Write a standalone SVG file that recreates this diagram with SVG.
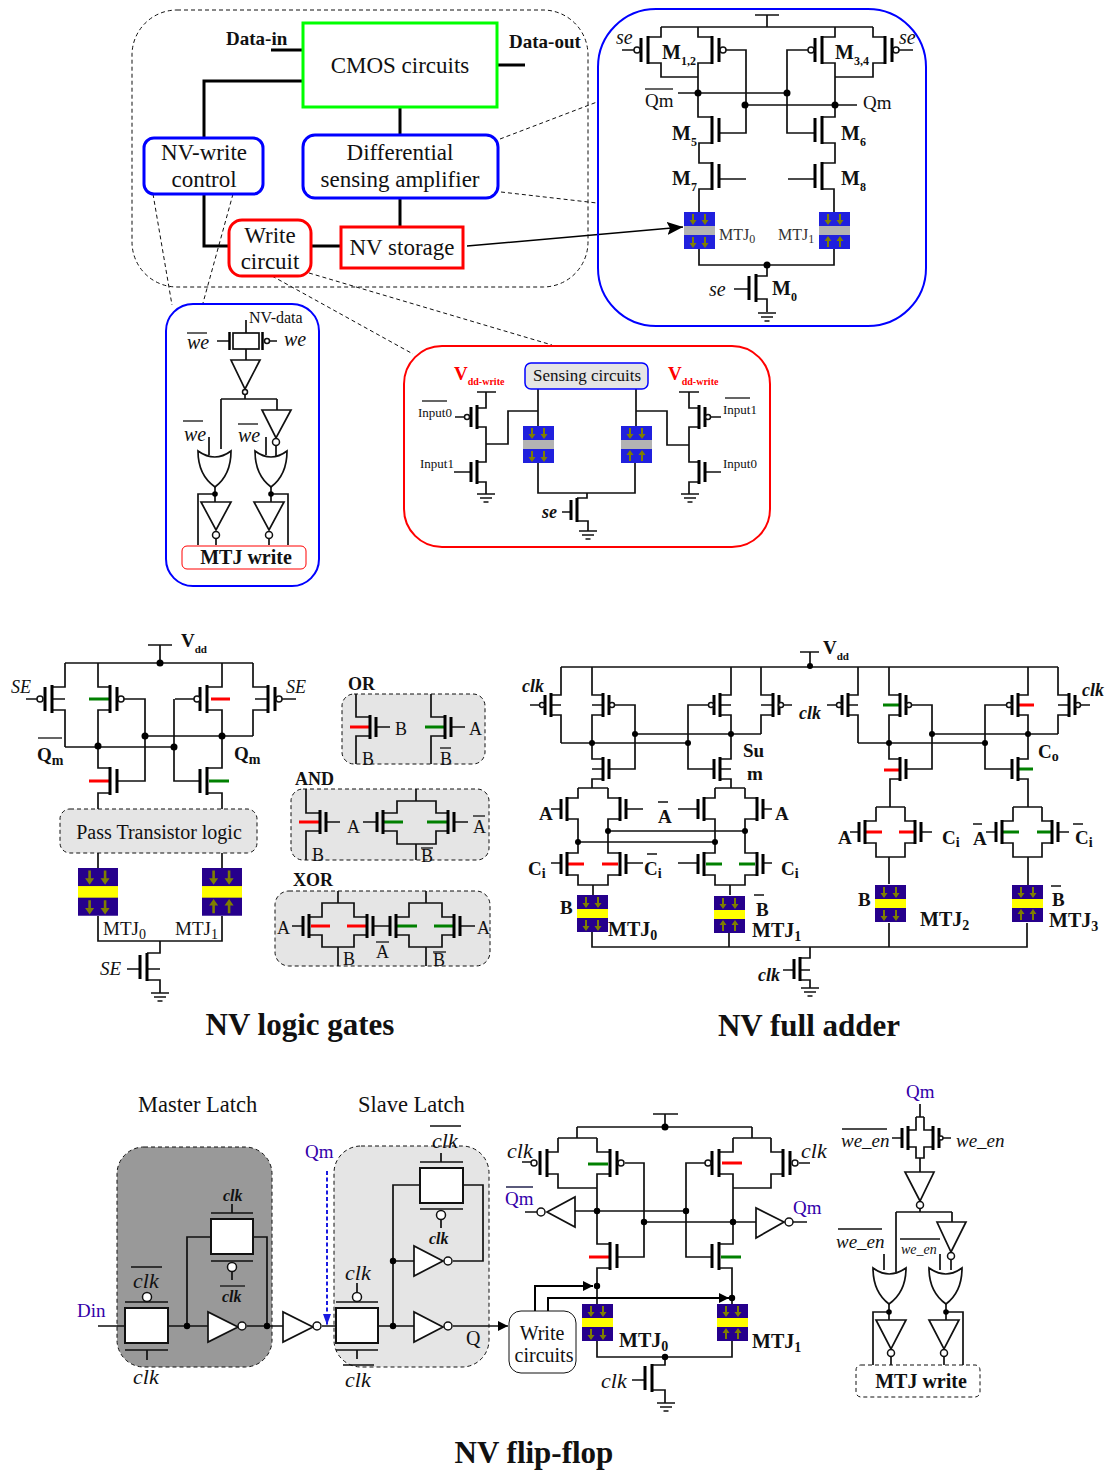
<svg xmlns="http://www.w3.org/2000/svg" width="1110" height="1470" viewBox="0 0 1110 1470">
<style>
text{font-family:"Liberation Serif","Times New Roman",serif;fill:#111}
.i{font-style:italic}.b{font-weight:bold}.c{text-anchor:middle}
.w{fill:none;stroke:#111;stroke-width:1.7}
.t{fill:none;stroke:#000;stroke-width:3}
.o{fill:none;stroke:#111;stroke-width:1.3}
.bar{fill:none;stroke:#000;stroke-width:3}
.bb{fill:#fff;stroke:#111;stroke-width:1.5}
.inv{fill:#fff;stroke:#111;stroke-width:1.7}
.d{fill:#000}
.r{stroke:#f00;stroke-width:3;fill:none}
.g{stroke:#008000;stroke-width:3;fill:none}
.dash{fill:none;stroke:#111;stroke-width:1;stroke-dasharray:4 3}
.dbox{stroke:#111;stroke-width:1;stroke-dasharray:4 3}
.pg{fill:#fff;stroke:#111;stroke-width:2}
.blu{fill:#2020dd}.gra{fill:#b3b3b3}.pur{fill:#26008c}.yel{fill:#ff0}
.ol{fill:#7f7f00}
.q{fill:#3300aa}
.rt{fill:#f00}
</style>
<defs>
<g id="tl"><path class="bar" d="M0-14V14M-7-12V12"/></g>
<g id="tr"><path class="bar" d="M0-14V14M7-12V12"/></g>
<g id="sl"><path class="bar" d="M0-12V12M-6-10V10"/></g>
<g id="sr"><path class="bar" d="M0-12V12M6-10V10"/></g>
<g id="gnd"><path class="w" d="M-9,0H9M-6,4H6M-2.500,8H2.500"/></g>
<path id="ad" class="ol" d="M-1-5H1V1H3.500L0,6-3.500,1H-1Z"/>
<path id="au" class="ol" d="M-1,5H1V-1H3.500L0-6-3.500-1H-1Z"/>
<g id="bdd"><rect class="blu" width="31" height="37"/><rect class="gra" y="14" width="31" height="9"/><use href="#ad" x="9" y="7"/><use href="#ad" x="21" y="7"/><use href="#ad" x="9" y="30"/><use href="#ad" x="21" y="30"/></g>
<g id="bdu"><rect class="blu" width="31" height="37"/><rect class="gra" y="14" width="31" height="9"/><use href="#ad" x="9" y="7"/><use href="#ad" x="21" y="7"/><use href="#au" x="9" y="30"/><use href="#au" x="21" y="30"/></g>
<g id="pdd"><rect class="pur" width="31" height="37"/><rect class="yel" y="14" width="31" height="9"/><use href="#ad" x="9" y="7"/><use href="#ad" x="21" y="7"/><use href="#ad" x="9" y="30"/><use href="#ad" x="21" y="30"/></g>
<g id="pdu"><rect class="pur" width="31" height="37"/><rect class="yel" y="14" width="31" height="9"/><use href="#ad" x="9" y="7"/><use href="#ad" x="21" y="7"/><use href="#au" x="9" y="30"/><use href="#au" x="21" y="30"/></g>
<marker id="ah" markerUnits="userSpaceOnUse" markerWidth="17" markerHeight="13" refX="16" refY="6.500" orient="auto"><path d="M0,0L16,6.500 0,13 3,6.500Z" fill="#000"/></marker>
<marker id="as" markerUnits="userSpaceOnUse" markerWidth="11" markerHeight="10" refX="10" refY="5" orient="auto"><path d="M0,0L10,5 0,10Z" fill="#000"/></marker>
<marker id="ab" markerUnits="userSpaceOnUse" markerWidth="12" markerHeight="9" refX="11" refY="4" orient="auto"><path d="M0,0L11,4 0,8Z" fill="#1a1ae0"/></marker>
</defs>

<g id="nv-system">
<rect id="system-outline" class="dash" x="132" y="10" width="456" height="277" rx="45"/>
<g id="top-connectors">
<path class="t" d="M271,50H303M497,65H525M303,81H204V138M400,107V134M400,198V227M204,194V246H229M311,246H341"/>
<path class="dash" d="M500,139L597,102M501,192L597,203M153,194L172,305M233,194L203,303M272,276L413,354M309,273L552,345"/>
<path d="M467,246L683,227" fill="none" stroke="#000" stroke-width="1.500" marker-end="url(#ah)"/>
</g>
<text class="b" x="226" y="45" font-size="19">Data-in</text>
<text class="b" x="509" y="48" font-size="19">Data-out</text>
<g id="cmos"><rect x="303" y="23" width="194" height="84" fill="#fff" stroke="#0f0" stroke-width="3"/><text class="c" x="400" y="73" font-size="23">CMOS circuits</text></g>
<g id="nv-write-control"><rect x="144" y="138" width="119" height="56" rx="10" fill="#fff" stroke="#00f" stroke-width="3"/><text class="c" x="204" y="160" font-size="23">NV-write</text><text class="c" x="204" y="187" font-size="23">control</text></g>
<g id="diff-amp"><rect x="303" y="135" width="195" height="63" rx="12" fill="#fff" stroke="#00f" stroke-width="3"/><text class="c" x="400" y="160" font-size="23">Differential</text><text class="c" x="400" y="187" font-size="23">sensing amplifier</text></g>
<g id="write-circuit"><rect x="229" y="220" width="82" height="56" rx="13" fill="#fff" stroke="#f00" stroke-width="3"/><text class="c" x="270" y="243" font-size="23">Write</text><text class="c" x="270" y="269" font-size="23">circuit</text></g>
<g id="nv-storage"><rect x="341" y="227" width="122" height="41" fill="#fff" stroke="#f00" stroke-width="3"/><text class="c" x="402" y="255" font-size="23">NV storage</text></g>
</g>

<g id="sense-amp-detail">
<rect x="598" y="9" width="328" height="317" rx="58" fill="none" stroke="#00f" stroke-width="2"/>
<g id="sa-wires"><path class="w" d="M755,15H779M767,15V27M661,27H873M661,27V37H648M648,63H661V77H698M698,27V37H712M712,63H698V117H712M712,143H699V163H712M712,189H699V212M699,249V265H834V249M834,212V189H822M822,163H835V143H822M822,117H835V63H822M822,37H835V27M873,27V37H885M885,63H873V77H835M622,50H634M726,50H746V133H719M808,50H787V133H815M899,50H913M678,93H787M745,105H857M719,179H746M788,179H815M767,265V276H756M756,299H767V312M734,289H749"/>
<use href="#gnd" x="767" y="313"/></g>
<g id="sa-devices"><use href="#tl" x="648" y="50"/><use href="#tr" x="712" y="50"/><use href="#tl" x="822" y="50"/><use href="#tr" x="885" y="50"/><use href="#tr" x="712" y="130"/><use href="#tl" x="822" y="130"/><use href="#tr" x="712" y="176"/><use href="#tl" x="822" y="176"/><use href="#tl" x="756" y="288"/>
<circle class="bb" cx="637" cy="50" r="3"/><circle class="bb" cx="723" cy="50" r="3"/><circle class="bb" cx="811" cy="50" r="3"/><circle class="bb" cx="896" cy="50" r="3"/>
<circle class="d" cx="698" cy="93" r="3.500"/><circle class="d" cx="787" cy="93" r="3.500"/><circle class="d" cx="745" cy="105" r="3.500"/><circle class="d" cx="835" cy="105" r="3.500"/><circle class="d" cx="767" cy="265" r="3.500"/>
<use href="#bdd" x="684" y="212"/><use href="#bdu" x="819" y="212"/></g>
<text class="i" x="616" y="44" font-size="20">se</text><text class="i" x="899" y="44" font-size="20">se</text>
<text class="b" x="662" y="59" font-size="20">M<tspan dy="6" font-size="12">1,2</tspan></text>
<text class="b" x="835" y="59" font-size="20">M<tspan dy="6" font-size="12">3,4</tspan></text>
<text x="645" y="107" font-size="19">Qm</text><path class="o" d="M645,89H673"/><text x="863" y="109" font-size="19">Qm</text>
<text class="b" x="672" y="140" font-size="20">M<tspan dy="6" font-size="12">5</tspan></text>
<text class="b" x="841" y="140" font-size="20">M<tspan dy="6" font-size="12">6</tspan></text>
<text class="b" x="672" y="185" font-size="20">M<tspan dy="6" font-size="12">7</tspan></text>
<text class="b" x="841" y="185" font-size="20">M<tspan dy="6" font-size="12">8</tspan></text>
<text x="719" y="240" font-size="16" style="fill:#333">MTJ<tspan dy="3" font-size="12">0</tspan></text>
<text x="778" y="240" font-size="16" style="fill:#333">MTJ<tspan dy="3" font-size="12">1</tspan></text>
<text class="i" x="709" y="296" font-size="20">se</text>
<text class="b" x="772" y="295" font-size="20">M<tspan dy="6" font-size="12">0</tspan></text>
</g>

<g id="write-control-detail">
<rect x="166" y="304" width="153" height="282" rx="27" fill="none" stroke="#00f" stroke-width="2"/>
<path class="w" d="M246,320V333M246,349V360M217,341H229M270,341H277M245,395V399M221,399H277M221,399V449M277,399V410M276,445V457M209,437V455M266,437V455M198,545V494H215M215,487V502M271,487V502M271,494H288V545M216,538V545M269,538V545"/>
<rect class="w" x="233" y="333" width="26" height="16"/>
<path fill="none" stroke="#000" stroke-width="2.500" d="M229.500,332V350M262.500,332V350"/>
<circle class="bb" cx="267" cy="341" r="2.500"/>
<path class="inv" d="M231,360H260L245,389Z"/><circle class="bb" cx="245" cy="392" r="2.500"/>
<path class="inv" d="M262,410H291L276,438Z"/><circle class="bb" cx="276" cy="442" r="3.500"/>
<path class="inv" d="M198,451Q215,463 231,451Q231,475 215,487Q198,475 198,451Z"/>
<path class="inv" d="M255,451Q271,463 287,451Q287,475 271,487Q255,475 255,451Z"/>
<circle class="d" cx="215" cy="494" r="2.800"/><circle class="d" cx="271" cy="494" r="2.800"/>
<path class="inv" d="M201,502H231L216,530Z"/><circle class="bb" cx="216" cy="535" r="3.500"/>
<path class="inv" d="M254,502H284L269,530Z"/><circle class="bb" cx="269" cy="535" r="3.500"/>
<g id="mtj-write-top"><rect x="182" y="546" width="124" height="23" rx="5" fill="#fff" stroke="#f00" stroke-width="1"/><text class="b c" x="246" y="564" font-size="20">MTJ write</text></g>
<text x="249" y="323" font-size="16">NV-data</text>
<text class="i" x="187" y="349" font-size="20">we</text><path class="o" d="M187,333H207"/>
<text class="i" x="284" y="346" font-size="20">we</text>
<text class="i" x="184" y="441" font-size="20">we</text><path class="o" d="M183,421H203"/>
<text class="i" x="238" y="442" font-size="20">we</text><path class="o" d="M238,424H258"/>
</g>

<g id="write-circuit-detail">
<rect x="404" y="346" width="366" height="201" rx="38" fill="none" stroke="#f00" stroke-width="2"/>
<path class="w" d="M477,392H496M486,392V408H477M477,427H486V462H477M477,482H486V494M486,444H508V411H538M538,389V426M538,463V493H635V463M636,389V426M636,411H667V445H689M679,392H699M689,392V408H699M699,427H689V462H699M699,482H689V494M455,417H464M454,472H470M709,417H721M706,472H721M587,493V498H577M577,521H588V531M562,512H571"/>
<use href="#gnd" x="486" y="494"/><use href="#gnd" x="690" y="494"/><use href="#gnd" x="588" y="531"/>
<use href="#sl" x="477" y="417"/><use href="#sl" x="477" y="472"/><use href="#sr" x="699" y="417"/><use href="#sr" x="699" y="472"/><use href="#sl" x="577" y="510"/>
<circle class="bb" cx="467" cy="417" r="2.500"/><circle class="bb" cx="708" cy="417" r="2.500"/>
<use href="#bdd" x="523" y="426"/><use href="#bdu" x="621" y="426"/>
<g id="sensing-circuits"><rect x="525" y="363" width="123" height="26" rx="6" fill="#e5e5e5" stroke="#00f" stroke-width="1.500"/><text class="c" x="587" y="381" font-size="17">Sensing circuits</text></g>
<text class="b rt" x="454" y="380" font-size="19" style="fill:#f00">V<tspan dy="5" font-size="10">dd-write</tspan></text>
<text class="b rt" x="668" y="380" font-size="19" style="fill:#f00">V<tspan dy="5" font-size="10">dd-write</tspan></text>
<text x="418" y="417" font-size="13">Input0</text><path class="o" d="M422,401H447"/>
<text x="420" y="468" font-size="13">Input1</text>
<text x="723" y="414" font-size="13">Input1</text><path class="o" d="M725,398H750"/>
<text x="723" y="468" font-size="13">Input0</text>
<text class="b i" x="542" y="518" font-size="18">se</text>
</g>

<g id="nv-logic-gates">
<g id="lg-wires"><path class="w" d="M148,645H172M160,645V663M65,663H253M65,663V687H52M52,699H65M52,710H65V747M26,699H37M98,663V687H110M110,710H98V768H110M110,793H98V809M65,747H174M124,699H145V781H118M145,736H253M175,699H194M174,699V781H201M222,663V687H207M207,710H222V768H207M207,793H222V809M253,663V687H268M268,710H253V736M255,699H268M282,699H296M98,853V868M222,853V868M98,916V941H222V916M160,941V953H147M147,980H160V993M127,969H140M147,969H160"/>
<path class="r" d="M89,781H109M211,699H230"/><path class="g" d="M89,699H109M209,781H229"/><use href="#gnd" x="160" y="993"/>
<use href="#tl" x="52" y="699"/><use href="#tr" x="110" y="699"/><use href="#tr" x="110" y="781"/><use href="#tl" x="207" y="699"/><use href="#tl" x="207" y="781"/><use href="#tr" x="268" y="699"/><use href="#tl" x="147" y="967"/>
<circle class="bb" cx="40" cy="699" r="3"/><circle class="bb" cx="121" cy="699" r="3"/><circle class="bb" cx="197" cy="699" r="3"/><circle class="bb" cx="279" cy="699" r="3"/>
<circle class="d" cx="160" cy="663" r="3.500"/><circle class="d" cx="98" cy="746" r="3.500"/><circle class="d" cx="174" cy="747" r="3.500"/><circle class="d" cx="145" cy="736" r="3.500"/><circle class="d" cx="222" cy="736" r="3.500"/></g>
<g id="pass-transistor"><rect class="dbox" x="60" y="809" width="197" height="44" rx="10" fill="#e5e5e5"/><text class="c" x="159" y="839" font-size="20">Pass Transistor logic</text></g>
<g transform="translate(78,868) scale(1.290)"><use href="#pdd"/></g><g transform="translate(202,868) scale(1.290)"><use href="#pdu"/></g>
<text class="i" x="11" y="693" font-size="18">SE</text><text class="i" x="286" y="693" font-size="18">SE</text>
<text class="b" x="181" y="647" font-size="19">V<tspan dy="6" font-size="11">dd</tspan></text>
<text class="b" x="37" y="761" font-size="19">Q<tspan dy="4" font-size="14">m</tspan></text><path class="o" d="M38,738H62"/>
<text class="b" x="234" y="760" font-size="19">Q<tspan dy="4" font-size="14">m</tspan></text>
<text x="103" y="935" font-size="19">MTJ<tspan dy="4" font-size="14">0</tspan></text><text x="175" y="935" font-size="19">MTJ<tspan dy="4" font-size="14">1</tspan></text>
<text class="i" x="100" y="975" font-size="19">SE</text>

<g id="or-gate"><rect class="dbox" x="342" y="694" width="143" height="70" rx="12" fill="#e5e5e5"/>
<path class="w" d="M356,694V717H370M370,736H356V764M376,727H390M431,694V717H445M445,736H431V764M451,727H465"/>
<path class="r" d="M350,727H370"/><path class="g" d="M425,727H445"/><use href="#sr" x="370" y="727"/><use href="#sr" x="445" y="727"/>
<text class="b" x="348" y="690" font-size="18">OR</text>
<text x="395" y="735" font-size="18">B</text><text x="362" y="765" font-size="18">B</text><text x="469" y="735" font-size="18">A</text><text x="440" y="765" font-size="18">B</text><path class="o" d="M440,748H451"/></g>
<g id="and-gate"><rect class="dbox" x="291" y="789" width="198" height="71" rx="12" fill="#e5e5e5"/>
<path class="w" d="M306,789V813H320M320,831H306V860M326,822H340M363,822H376M383,813H397V801H436V813H448M383,831H397V844H436V831H448M416,789V801M416,844V860M455,822H468"/>
<path class="r" d="M299,822H319"/><path class="g" d="M384,822H403M427,822H447"/><use href="#sr" x="320" y="822"/><use href="#sl" x="383" y="822"/><use href="#sr" x="448" y="822"/>
<text class="b" x="295" y="785" font-size="18">AND</text>
<text x="347" y="833" font-size="18">A</text><text x="312" y="861" font-size="18">B</text><text x="473" y="833" font-size="18">A</text><path class="o" d="M473,816H485"/><text x="421" y="862" font-size="18">B</text><path class="o" d="M421,848H433"/></g>
<g id="xor-gate"><rect class="dbox" x="275" y="891" width="215" height="75" rx="14" fill="#e5e5e5"/>
<path class="w" d="M292,926H302M309,917H322V903H354V917H367M309,935H322V947H354V935H367M338,891V903M338,947V966M374,926H390M396,917H409V903H442V917H454M396,935H409V947H442V935H454M426,891V903M426,947V966M461,926H475"/>
<path class="r" d="M311,926H330M347,926H367"/><path class="g" d="M397,926H417M434,926H454"/><use href="#sl" x="309" y="926"/><use href="#sr" x="367" y="926"/><use href="#sl" x="396" y="926"/><use href="#sr" x="454" y="926"/>
<text class="b" x="293" y="886" font-size="18">XOR</text>
<text x="277" y="934" font-size="18">A</text><text x="477" y="934" font-size="18">A</text><text x="343" y="965" font-size="18">B</text><text x="376" y="958" font-size="18">A</text><path class="o" d="M376,942H389"/><text x="433" y="966" font-size="18">B</text><path class="o" d="M433,952H446"/></g>
<text class="b c" x="300" y="1035" font-size="31">NV logic gates</text>
</g>

<g id="nv-full-adder">
<g id="fa-wires"><path class="w" d="M561,667H1058M800,652H819M810,652V667M561,667V695H551M551,715H561V743M551,705H561M592,667V695H603M603,715H592V759H603M603,779H592V788M592,705H603M592,769H603M615,705H635V769H609M561,743H688M635,734H761M731,667V695H720M720,715H731V759H720M720,779H731V788M720,705H731M720,769H731M708,705H688V769H714M761,667V695H773M773,715H761V734M761,705H773M784,705H792M530,705H540
M578,788H608M578,788V798H567M567,819H578V853H567M567,875H578V885H608V875H620M608,788V798H620M620,819H608V853H620M551,809H561M626,809H643M551,863H561M626,863H643M593,885V895
M715,788H745M715,788V798H704M704,819H715V853H704M704,875H715V885H745V875H757M745,788V798H757M757,819H745V853H757M678,809H698M763,809H772M678,863H698M763,863H772M730,885V895M608,831H745M578,842H715
M592,932V947H1027V923M729,933V947M889,923V947M810,947V958H800M800,980H810V988M783,970H794M800,970H810
M858,667V695H848M848,715H858V743M827,705H837M848,705H858M889,667V695H900M900,715H889V759H900M900,779H890V807M912,705H932V769H906M1028,667V695H1018M1018,715H1028V759H1018M1018,779H1028V807M1006,705H985V769H1012M1058,667V695H1069M1069,715H1058V734M1081,705H1090M1058,705H1069M858,743H985M932,734H1058
M876,807H905M876,807V821H865M865,843H876V857H905V843H915M905,807V821H915M850,832H859M921,832H932M889,857V884M1013,807H1042M1013,807V821H1002M1002,843H1013V857H1042V843H1052M1042,807V821H1052M986,832H996M1058,832H1069M1028,857V885"/>
<use href="#gnd" x="810" y="988"/>
<path class="r" d="M568,864H584M602,864H618M884,770H900M1019,705H1034M866,832H882M899,832H915"/>
<path class="g" d="M706,864H722M739,864H755M883,705H900M1018,769H1033M1003,832H1019M1037,832H1052"/></g>
<g id="fa-devices">
<use href="#sl" x="551" y="705"/><use href="#sr" x="603" y="705"/><use href="#sl" x="720" y="705"/><use href="#sr" x="773" y="705"/><use href="#sl" x="848" y="705"/><use href="#sr" x="900" y="705"/><use href="#sl" x="1018" y="705"/><use href="#sr" x="1069" y="705"/>
<use href="#sr" x="603" y="769"/><use href="#sl" x="720" y="769"/><use href="#sr" x="900" y="769"/><use href="#sl" x="1018" y="769"/>
<use href="#sl" x="567" y="809"/><use href="#sr" x="620" y="809"/><use href="#sl" x="704" y="809"/><use href="#sr" x="757" y="809"/><use href="#sl" x="567" y="864"/><use href="#sr" x="620" y="864"/><use href="#sl" x="704" y="864"/><use href="#sr" x="757" y="864"/>
<use href="#sl" x="865" y="832"/><use href="#sr" x="915" y="832"/><use href="#sl" x="1002" y="832"/><use href="#sr" x="1052" y="832"/><use href="#sl" x="800" y="969"/>
<circle class="bb" cx="542" cy="705" r="2.500"/><circle class="bb" cx="612" cy="705" r="2.500"/><circle class="bb" cx="711" cy="705" r="2.500"/><circle class="bb" cx="781" cy="705" r="2.500"/><circle class="bb" cx="839" cy="705" r="2.500"/><circle class="bb" cx="909" cy="705" r="2.500"/><circle class="bb" cx="1009" cy="705" r="2.500"/><circle class="bb" cx="1078" cy="705" r="2.500"/>
<circle class="d" cx="810" cy="666" r="3"/><circle class="d" cx="592" cy="743" r="3"/><circle class="d" cx="688" cy="743" r="3"/><circle class="d" cx="635" cy="734" r="3"/><circle class="d" cx="731" cy="734" r="3"/><circle class="d" cx="889" cy="743" r="3"/><circle class="d" cx="985" cy="743" r="3"/><circle class="d" cx="932" cy="734" r="3"/><circle class="d" cx="1028" cy="734" r="3"/><circle class="d" cx="578" cy="842" r="3"/><circle class="d" cx="608" cy="831" r="3"/><circle class="d" cx="745" cy="831" r="3"/><circle class="d" cx="715" cy="842" r="3"/>
<use href="#pdd" x="577" y="895"/><use href="#pdu" x="714" y="896"/><use href="#pdd" x="875" y="885"/><use href="#pdu" x="1012" y="885"/></g>
<g class="b" font-size="19"><text class="i" x="522" y="692" font-size="18">clk</text><text class="i" x="799" y="719" font-size="18">clk</text><text class="i" x="1082" y="696" font-size="18">clk</text>
<text x="823" y="654">V<tspan dy="6" font-size="11">dd</tspan></text>
<text x="743" y="757">Su</text><text x="747" y="780">m</text>
<text x="539" y="820">A</text><text x="658" y="823">A</text><text x="775" y="820">A</text>
<text x="528" y="875">C<tspan dy="3" font-size="14">i</tspan></text><text x="644" y="875">C<tspan dy="3" font-size="14">i</tspan></text><text x="781" y="875">C<tspan dy="3" font-size="14">i</tspan></text>
<text x="560" y="914">B</text><text x="756" y="916">B</text>
<text x="608" y="936" font-size="20">MTJ<tspan dy="4" font-size="14">0</tspan></text><text x="752" y="937" font-size="20">MTJ<tspan dy="4" font-size="14">1</tspan></text>
<text class="i" x="758" y="981" font-size="18">clk</text>
<text x="1038" y="758">C<tspan dy="3" font-size="14">o</tspan></text>
<text x="838" y="844">A</text><text x="942" y="844">C<tspan dy="3" font-size="14">i</tspan></text><text x="973" y="845">A</text><text x="1075" y="844">C<tspan dy="3" font-size="14">i</tspan></text>
<text x="858" y="906">B</text><text x="1052" y="906">B</text>
<text x="920" y="926" font-size="20">MTJ<tspan dy="4" font-size="14">2</tspan></text><text x="1049" y="927" font-size="20">MTJ<tspan dy="4" font-size="14">3</tspan></text></g>
<path class="o" d="M658,802H668M647,854H657M754,895H764M973,824H982M1073,824H1083M1051,886H1061" stroke-width="1.500"/>
<text class="b c" x="809" y="1036" font-size="31">NV full adder</text>
</g>

<g id="nv-flip-flop">
<text x="138" y="1112" font-size="22.500">Master Latch</text><text x="358" y="1112" font-size="22.500">Slave Latch</text>
<rect id="master-box" class="dbox" x="117" y="1147" width="155" height="220" rx="27" fill="#999"/>
<rect id="slave-box" class="dbox" x="334" y="1146" width="155" height="221" rx="27" fill="#e5e5e5"/>
<g id="latch-wires"><path class="w" d="M98,1326H125M168,1326H208M247,1326H283M187,1326V1237H211M253,1237H267V1326M322,1326H336M378,1326H414M393,1326V1185H420M463,1185H483V1261H453M393,1261H414M147,1350V1360M232,1204V1213M232,1272V1280M357,1283V1292M357,1350V1359M441,1153V1162M441,1220V1228"/>
<path class="o" d="M453,1326H508" stroke-width="1.700" marker-end="url(#as)"/>
<path class="w" d="M125,1302H168M125,1350H168M211,1213H253M211,1261H253M336,1302H378M336,1350H378M420,1162H463M420,1209H463"/>
<path d="M327,1171V1325" fill="none" stroke="#1a1ae0" stroke-width="2" stroke-dasharray="4 2.500" marker-end="url(#ab)"/>
<circle class="d" cx="187" cy="1326" r="3.200"/><circle class="d" cx="267" cy="1326" r="3.200"/><circle class="d" cx="393" cy="1326" r="3.200"/><circle class="d" cx="393" cy="1261" r="3.200"/></g>
<rect class="pg" x="125" y="1308" width="43" height="35"/><rect class="pg" x="211" y="1219" width="42" height="35"/><rect class="pg" x="336" y="1308" width="42" height="35"/><rect class="pg" x="420" y="1168" width="43" height="35"/>
<circle class="bb" cx="147" cy="1297" r="4.500"/><circle class="bb" cx="232" cy="1267" r="4.500"/><circle class="bb" cx="357" cy="1297" r="4.500"/><circle class="bb" cx="441" cy="1215" r="4.500"/>
<path class="inv" d="M208,1312V1342L238,1327Z"/><circle class="bb" cx="242" cy="1326" r="4"/>
<path class="inv" d="M283,1312V1342L313,1327Z"/><circle class="bb" cx="317" cy="1326" r="4"/>
<path class="inv" d="M414,1312V1342L443,1327Z"/><circle class="bb" cx="448" cy="1326" r="4"/>
<path class="inv" d="M414,1246V1276L443,1261Z"/><circle class="bb" cx="448" cy="1261" r="4"/>
<text class="q" x="77" y="1317" font-size="19">Din</text><text class="q" x="305" y="1158" font-size="19">Qm</text>
<g class="i" font-size="22"><text x="133" y="1288">clk</text><text x="133" y="1384">clk</text><text x="345" y="1280">clk</text><text x="345" y="1387">clk</text><text x="432" y="1148">clk</text></g>
<path class="o" d="M131,1267H162M343,1365H374M430,1126H461" stroke-width="1.500"/>
<g class="b i" font-size="16"><text x="223" y="1201">clk</text><text x="222" y="1302">clk</text><text x="429" y="1244">clk</text></g>
<path class="o" d="M220,1286H245" stroke-width="1.500"/>
<text x="466" y="1345" font-size="20">Q</text>

<g id="ff-core"><path class="w" d="M653,1114H678M665,1114V1127M577,1127H752M577,1127V1138M558,1138H597M558,1138V1152H547M547,1174H558V1188H597M597,1138V1152H610M610,1174H597V1244H610M610,1268H597V1304M522,1162H531M625,1163H644V1257H617M575,1211H686M644,1222H756M525,1212H537M752,1127V1138M733,1138H771M733,1138V1152H719M719,1174H733V1244H719M719,1268H732V1304M733,1188H771V1174H783M771,1138V1152H783M705,1163H686V1257H712M799,1163H810M793,1222H807M597,1341V1357H732V1341M665,1357V1365H652M652,1390H665V1403M632,1380H645"/>
<use href="#gnd" x="666" y="1403"/>
<path class="g" d="M588,1164H608M721,1257H741"/><path class="r" d="M589,1257H609M722,1163H742"/>
<use href="#tl" x="547" y="1163"/><use href="#tr" x="610" y="1163"/><use href="#tl" x="719" y="1163"/><use href="#tr" x="783" y="1163"/><use href="#tr" x="610" y="1256"/><use href="#tl" x="719" y="1256"/><use href="#tl" x="652" y="1378"/>
<circle class="bb" cx="534" cy="1163" r="3"/><circle class="bb" cx="621" cy="1163" r="3"/><circle class="bb" cx="708" cy="1163" r="3"/><circle class="bb" cx="795" cy="1163" r="3"/>
<path class="inv" d="M575,1197V1227L547,1212Z"/><circle class="bb" cx="541" cy="1212" r="4"/>
<path class="inv" d="M756,1208V1238L784,1222Z"/><circle class="bb" cx="789" cy="1222" r="4"/>
<circle class="d" cx="665" cy="1127" r="3.500"/><circle class="d" cx="597" cy="1211" r="3.200"/><circle class="d" cx="686" cy="1211" r="3.200"/><circle class="d" cx="644" cy="1222" r="3.200"/><circle class="d" cx="733" cy="1222" r="3.200"/><circle class="d" cx="597" cy="1286" r="3.200"/><circle class="d" cx="732" cy="1298" r="3.200"/><circle class="d" cx="665" cy="1357" r="3.200"/>
<path d="M535,1311V1286H593" fill="none" stroke="#000" stroke-width="2" marker-end="url(#as)"/>
<path d="M548,1311V1298H729" fill="none" stroke="#000" stroke-width="2" marker-end="url(#as)"/>
<use href="#pdd" x="582" y="1304"/><use href="#pdu" x="717" y="1304"/></g>
<g id="write-circuits"><rect x="509" y="1311" width="67" height="62" rx="12" fill="#fff" stroke="#111"/><text class="c" x="542" y="1340" font-size="20">Write</text><text class="c" x="544" y="1362" font-size="20">circuits</text></g>
<g class="i" font-size="22"><text x="507" y="1158">clk</text><text x="801" y="1158">clk</text><text x="601" y="1388">clk</text></g>
<text class="q" x="505" y="1205" font-size="19">Qm</text><path class="o" d="M506,1187H533" style="stroke:#003"/><text class="q" x="793" y="1214" font-size="19">Qm</text>
<text class="b" x="619" y="1347" font-size="20">MTJ<tspan dy="4" font-size="14">0</tspan></text><text class="b" x="752" y="1348" font-size="20">MTJ<tspan dy="4" font-size="14">1</tspan></text>

<g id="ff-write-control"><path class="w" d="M920,1104V1117M916,1117H924M916,1117V1130H908M908,1147H916V1158H924V1147H933M924,1117V1130H933M920,1158V1172M892,1138H902M941,1138H951M920,1208V1212M896,1212H952M896,1212V1272M952,1212V1222M951,1260V1270M884,1254V1270M940,1254V1270M889,1304V1320M946,1304V1320M889,1312H873V1365M946,1312H963V1365M891,1357V1365M944,1357V1365"/>
<use href="#sl" x="908" y="1138"/><use href="#sr" x="933" y="1138"/><circle class="bb" cx="941" cy="1138" r="2"/>
<path class="inv" d="M905,1172H934L920,1201Z"/><circle class="bb" cx="920" cy="1205" r="3.500"/>
<path class="inv" d="M937,1222H966L951,1252Z"/><circle class="bb" cx="951" cy="1256" r="3.500"/>
<path class="inv" d="M873,1268Q889,1280 906,1268Q906,1292 889,1304Q873,1292 873,1268Z"/>
<path class="inv" d="M929,1268Q946,1280 962,1268Q962,1292 946,1304Q929,1292 929,1268Z"/>
<circle class="d" cx="889" cy="1312" r="2.800"/><circle class="d" cx="946" cy="1312" r="2.800"/>
<path class="inv" d="M876,1320H906L891,1349Z"/><circle class="bb" cx="891" cy="1353" r="3.500"/>
<path class="inv" d="M929,1320H959L944,1349Z"/><circle class="bb" cx="944" cy="1353" r="3.500"/>
<g id="mtj-write-bottom"><rect class="dbox" x="856" y="1365" width="124" height="32" rx="5" fill="#fff"/><text class="b c" x="921" y="1388" font-size="20">MTJ write</text></g>
<text class="q" x="906" y="1098" font-size="19">Qm</text>
<text class="i" x="841" y="1147" font-size="19">we_en</text><path class="o" d="M842,1129H887"/><text class="i" x="956" y="1147" font-size="19">we_en</text>
<text class="i" x="836" y="1248" font-size="19">we_en</text><path class="o" d="M838,1229H882"/>
<text class="i" x="901" y="1254" font-size="14">we_en</text><path class="o" d="M900,1239H940"/></g>
<text class="b c" x="534" y="1463" font-size="31">NV flip-flop</text>
</g>
</svg>
